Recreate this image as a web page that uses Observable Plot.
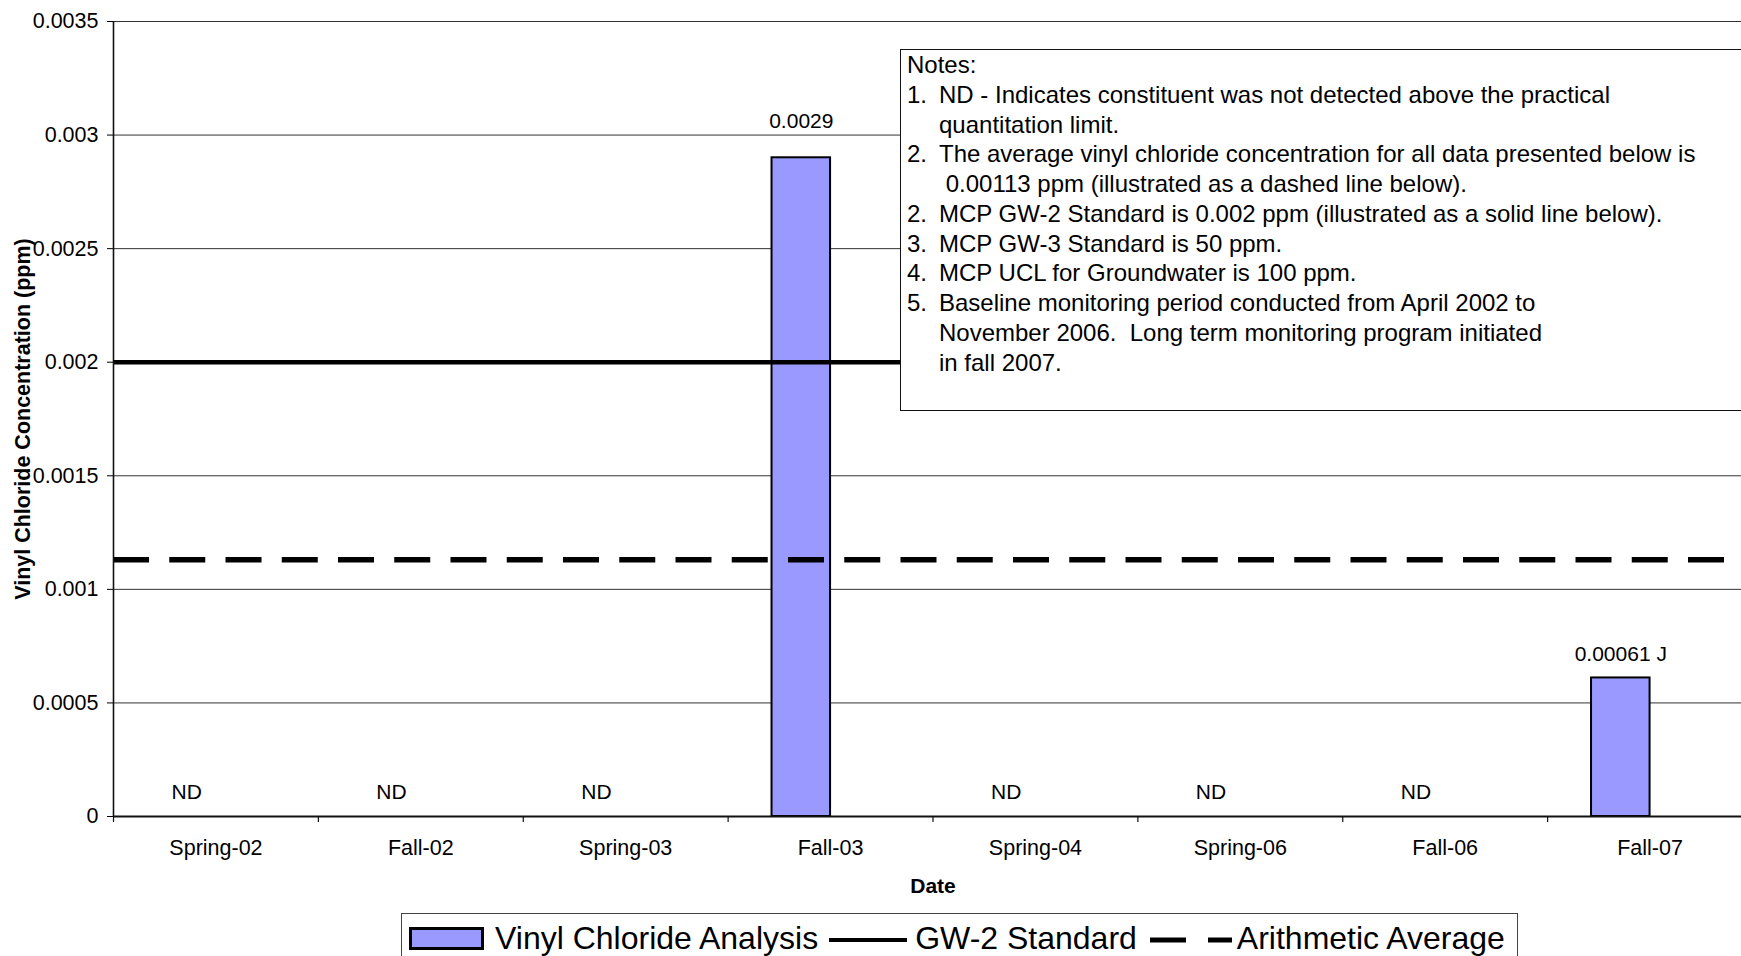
<!DOCTYPE html>
<html>
<head>
<meta charset="utf-8">
<script src="https://cdn.jsdelivr.net/npm/d3@7"></script>
<script src="https://cdn.jsdelivr.net/npm/@observablehq/plot@0.6"></script>
<style>
  html, body { margin: 0; padding: 0; background: #fff; overflow: hidden; }
  #wrap { position: relative; width: 1741px; height: 956px; overflow: hidden; font-family: "Liberation Sans", Arial, sans-serif; }
  #chart { position: absolute; left: 0; top: 0; width: 1752px; }
  #chart svg { max-width: none !important; }
  #notes { position: absolute; left: 900px; top: 49px; width: 1000px; height: 362px; background: #fff; border: 1.5px solid #111; font-size: 24px; line-height: 29.75px; color: #000; padding-left: 6px; box-sizing: border-box; }
  #notes .ln { white-space: pre; display: flex; }
  #notes .num { display: inline-block; width: 32px; flex: none; }
  #legend { position: absolute; left: 401px; top: 913px; width: 1117px; height: 50px; background: #fff; border: 1.5px solid #444; border-bottom: none; box-sizing: border-box; font-size: 32px; line-height: 30px; color: #000; }
  #legend .row { display: flex; align-items: center; height: 30px; margin-top: 9px; padding-left: 7px; white-space: nowrap; }
  #legend svg { display: block; }
</style>
</head>
<body>
<div id="wrap">
  <div id="chart"></div>
  <div id="notes"></div>
  <div id="legend"></div>
</div>
<script>
// ---- data ----
const dates = ["Spring-02", "Fall-02", "Spring-03", "Fall-03", "Spring-04", "Spring-06", "Fall-06", "Fall-07"];
const values = [null, null, null, 0.0029, null, null, null, 0.00061];
const labels = ["ND", "ND", "ND", "0.0029", "ND", "ND", "ND", "0.00061 J"];
const gw2Standard = 0.002;
const arithmeticAverage = 0.00113;
const yTicks = [0, 0.0005, 0.001, 0.0015, 0.002, 0.0025, 0.003, 0.0035];
const yTickLabels = ["0", "0.0005", "0.001", "0.0015", "0.002", "0.0025", "0.003", "0.0035"];
const yTitle = "Vinyl Chloride Concentration (ppm)";
const xTitle = "Date";
const seriesNames = ["Vinyl Chloride Analysis", "GW-2 Standard", "Arithmetic Average"];
const notesTitle = "Notes:";
const notesNums = ["1.", "", "2.", "", "2.", "3.", "4.", "5.", "", ""];
const notesText = [
  "ND - Indicates constituent was not detected above the practical",
  "quantitation limit.",
  "The average vinyl chloride concentration for all data presented below is",
  "\u00a00.00113 ppm (illustrated as a dashed line below).",
  "MCP GW-2 Standard is 0.002 ppm (illustrated as a solid line below).",
  "MCP GW-3 Standard is 50 ppm.",
  "MCP UCL for Groundwater is 100 ppm.",
  "Baseline monitoring period conducted from April 2002 to",
  "November 2006.  Long term monitoring program initiated",
  "in fall 2007."
];

const rows = dates.map((d, i) => ({date: d, value: values[i], label: labels[i]}));
const peak = d3.max(values);

// ---- layout ----
const W = 1752, H = 905, ML = 113, MR = 0, MT = 21, MB = 89;
const bw = (W - ML - MR) / dates.length;
const barLeft = 0.2143 * bw, barRight = 0.5 * bw;   // Excel: 2 series, gap width 150%
const barCenterOffset = (barLeft + (bw - barRight)) / 2 - bw / 2;

const chart = Plot.plot({
  width: W, height: H,
  marginLeft: ML, marginRight: MR, marginTop: MT, marginBottom: MB,
  style: {fontFamily: "'Liberation Sans', Arial, sans-serif", fontSize: "21.5px", background: "#fff", color: "#000", maxWidth: "none"},
  x: {type: "band", domain: dates, padding: 0, round: false, tickSize: 0, tickPadding: 23, label: null},
  y: {domain: [0, 0.0035], ticks: yTicks, tickFormat: d => yTickLabels[yTicks.indexOf(d)], tickSize: 6, tickPadding: 9, label: null},
  marks: [
    Plot.ruleY(yTicks.filter(d => d > 0), {stroke: "#333", strokeWidth: 1}),
    Plot.barY(rows.filter(d => d.value != null), {x: "date", y: "value", fill: "#9999ff", stroke: "#000", strokeWidth: 2, insetLeft: barLeft, insetRight: barRight}),
    Plot.ruleY([gw2Standard], {stroke: "#000", strokeWidth: 4.5}),
    Plot.ruleY([arithmeticAverage], {stroke: "#000", strokeWidth: 5.5, strokeDasharray: "36,20.25"}),
    Plot.ruleY([0], {stroke: "#111", strokeWidth: 2}),
    Plot.ruleX([dates[0]], {dx: -bw / 2, y1: 0, y2: 0.0035, stroke: "#111", strokeWidth: 1.6}),
    Plot.ruleX(dates, {dx: -bw / 2, y1: 0, y2: 0, insetTop: 0, insetBottom: -6, stroke: "#111", strokeWidth: 1.2}),
    Plot.text(rows.filter(d => d.value !== peak), {x: "date", y: d => d.value ?? 0, text: "label", dx: barCenterOffset, dy: -24, fontSize: 21}),
    Plot.text(rows.filter(d => d.value === peak), {x: "date", y: "value", text: "label", dx: barCenterOffset, dy: -37, fontSize: 21}),
    Plot.text([yTitle], {frameAnchor: "left", text: d => d, textAnchor: "middle", rotate: -90, dx: -90, fontWeight: "bold", fontSize: 21.5}),
    Plot.text([xTitle], {frameAnchor: "bottom", text: d => d, dy: 76, fontWeight: "bold", fontSize: 21})
  ]
});
document.getElementById("chart").appendChild(chart);

// ---- notes box ----
const notes = document.getElementById("notes");
{
  const t = document.createElement("div");
  t.className = "ln";
  t.textContent = notesTitle;
  notes.appendChild(t);
  notesText.forEach((s, i) => {
    const ln = document.createElement("div");
    ln.className = "ln";
    const n = document.createElement("span");
    n.className = "num";
    n.textContent = notesNums[i];
    const tx = document.createElement("span");
    tx.textContent = s;
    ln.appendChild(n); ln.appendChild(tx);
    notes.appendChild(ln);
  });
}

// ---- legend ----
const legend = document.getElementById("legend");
const row = document.createElement("div");
row.className = "row";
legend.appendChild(row);
function add(el) { row.appendChild(el); return el; }
function swatch(w, h, draw, ml) {
  const s = d3.create("svg").attr("width", w).attr("height", h).style("margin-left", ml + "px");
  draw(s);
  return add(s.node());
}
function label(text, ml) {
  const s = document.createElement("span");
  s.textContent = text;
  s.style.marginLeft = ml + "px";
  return add(s);
}
swatch(75, 23, s => s.append("rect").attr("x", 1.5).attr("y", 1.5).attr("width", 72).attr("height", 20).attr("fill", "#9999ff").attr("stroke", "#000").attr("stroke-width", 3), 0);
label(seriesNames[0], 11);
swatch(78, 20, s => s.append("line").attr("x1", 0).attr("x2", 78).attr("y1", 12).attr("y2", 12).attr("stroke", "#000").attr("stroke-width", 4), 11);
label(seriesNames[1], 8);
swatch(82, 20, s => s.append("line").attr("x1", 0).attr("x2", 82).attr("y1", 12).attr("y2", 12).attr("stroke", "#000").attr("stroke-width", 5).attr("stroke-dasharray", "36,22"), 13);
label(seriesNames[2], 5);
</script>
</body>
</html>
